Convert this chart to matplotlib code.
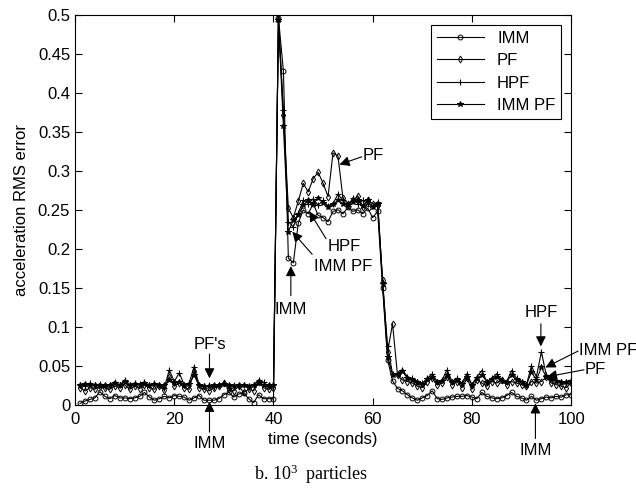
import numpy as np
import matplotlib
matplotlib.use('Agg')
import matplotlib.pyplot as plt

plt.rcParams['font.family'] = ['Liberation Sans', 'DejaVu Sans']
plt.rcParams['mathtext.fontset'] = 'custom'
plt.rcParams['mathtext.rm'] = 'Liberation Serif'

t = np.arange(1, 101)

imm = [0.002, 0.005, 0.007, 0.009, 0.017, 0.011, 0.008, 0.012, 0.009, 0.009,
       0.008, 0.009, 0.011, 0.016, 0.010, 0.006, 0.008, 0.011, 0.009, 0.012,
       0.011, 0.010, 0.006, 0.009, 0.012, 0.006, 0.006, 0.006, 0.008, 0.013,
       0.016, 0.010, 0.014, 0.015, 0.008, 0.003, 0.013, 0.008, 0.008, 0.008,
       0.496, 0.428, 0.188, 0.182, 0.233, 0.250, 0.245, 0.258, 0.243, 0.240,
       0.235, 0.248, 0.250, 0.245, 0.253, 0.248, 0.250, 0.245, 0.252, 0.240,
       0.248, 0.150, 0.058, 0.031, 0.021, 0.018, 0.013, 0.009, 0.006, 0.009,
       0.012, 0.018, 0.008, 0.007, 0.009, 0.010, 0.011, 0.011, 0.012, 0.010,
       0.008, 0.016, 0.011, 0.009, 0.008, 0.009, 0.012, 0.016, 0.011, 0.009,
       0.006, 0.011, 0.006, 0.008, 0.010, 0.009, 0.011, 0.010, 0.013, 0.013]

pf = [0.022, 0.018, 0.022, 0.020, 0.024, 0.022, 0.020, 0.024, 0.022, 0.026,
      0.020, 0.024, 0.021, 0.025, 0.022, 0.020, 0.024, 0.019, 0.036, 0.024,
      0.028, 0.022, 0.020, 0.044, 0.022, 0.020, 0.018, 0.022, 0.024, 0.028,
      0.020, 0.018, 0.024, 0.016, 0.020, 0.018, 0.030, 0.022, 0.020, 0.022,
      0.494, 0.372, 0.252, 0.240, 0.261, 0.284, 0.273, 0.290, 0.298, 0.284,
      0.267, 0.323, 0.319, 0.265, 0.258, 0.262, 0.268, 0.254, 0.262, 0.258,
      0.256, 0.160, 0.068, 0.104, 0.038, 0.032, 0.030, 0.028, 0.024, 0.022,
      0.030, 0.034, 0.026, 0.028, 0.036, 0.026, 0.030, 0.022, 0.034, 0.020,
      0.032, 0.028, 0.024, 0.030, 0.028, 0.032, 0.026, 0.030, 0.028, 0.026,
      0.024, 0.030, 0.028, 0.030, 0.036, 0.028, 0.026, 0.024, 0.022, 0.028]

hpf = [0.026, 0.024, 0.028, 0.025, 0.027, 0.024, 0.026, 0.030, 0.025, 0.032,
       0.026, 0.028, 0.027, 0.029, 0.025, 0.028, 0.026, 0.022, 0.045, 0.030,
       0.041, 0.026, 0.028, 0.049, 0.026, 0.024, 0.025, 0.023, 0.025, 0.028,
       0.022, 0.026, 0.024, 0.025, 0.023, 0.026, 0.032, 0.029, 0.024, 0.025,
       0.492, 0.378, 0.235, 0.228, 0.246, 0.262, 0.258, 0.264, 0.256, 0.262,
       0.255, 0.258, 0.270, 0.262, 0.255, 0.265, 0.258, 0.262, 0.258, 0.255,
       0.260, 0.157, 0.075, 0.040, 0.040, 0.045, 0.036, 0.034, 0.030, 0.028,
       0.034, 0.040, 0.030, 0.032, 0.045, 0.030, 0.034, 0.028, 0.040, 0.026,
       0.036, 0.044, 0.030, 0.034, 0.040, 0.032, 0.030, 0.044, 0.034, 0.030,
       0.026, 0.050, 0.036, 0.068, 0.038, 0.034, 0.032, 0.030, 0.028, 0.032]

imm_pf = [0.025, 0.027, 0.025, 0.026, 0.024, 0.026, 0.025, 0.028, 0.026, 0.029,
          0.025, 0.027, 0.026, 0.028, 0.025, 0.027, 0.026, 0.025, 0.032, 0.029,
          0.030, 0.026, 0.027, 0.038, 0.025, 0.024, 0.024, 0.025, 0.026, 0.027,
          0.025, 0.024, 0.025, 0.026, 0.024, 0.025, 0.028, 0.026, 0.025, 0.025,
          0.493, 0.357, 0.222, 0.237, 0.243, 0.256, 0.262, 0.258, 0.265, 0.259,
          0.254, 0.257, 0.262, 0.258, 0.256, 0.260, 0.262, 0.255, 0.262, 0.253,
          0.258, 0.155, 0.062, 0.038, 0.039, 0.043, 0.034, 0.032, 0.030, 0.026,
          0.033, 0.036, 0.030, 0.031, 0.038, 0.029, 0.032, 0.027, 0.036, 0.026,
          0.034, 0.038, 0.030, 0.033, 0.036, 0.031, 0.030, 0.038, 0.032, 0.030,
          0.026, 0.042, 0.032, 0.048, 0.036, 0.032, 0.031, 0.030, 0.029, 0.031]

fig = plt.figure(figsize=(6.36, 4.92), dpi=100)
ax = fig.add_axes([0.118, 0.177, 0.78, 0.793])

ax.plot(t, imm, '-o', color='k', lw=0.8, ms=3.5, mfc='none', mew=0.7, label='IMM')
ax.plot(t, pf, '-d', color='k', lw=0.8, ms=3.5, mfc='none', mew=0.7, label='PF')
ax.plot(t, hpf, '-+', color='k', lw=0.8, ms=5, mew=0.8, label='HPF')
ax.plot(t, imm_pf, '-*', color='k', lw=0.8, ms=4, mew=0.7, label='IMM PF')

ax.set_xlim(0, 100)
ax.set_ylim(0, 0.5)
ax.set_xticks([0, 20, 40, 60, 80, 100])
ax.set_yticks(np.arange(0, 0.51, 0.05))
ax.set_yticklabels(['0', '0.05', '0.1', '0.15', '0.2', '0.25', '0.3', '0.35', '0.4', '0.45', '0.5'])
ax.tick_params(direction='in', top=True, right=True, length=5, labelsize=12, width=0.8)
ax.tick_params(axis='x', pad=5)
for s in ax.spines.values():
    s.set_linewidth(0.8)

ax.set_xlabel('time (seconds)', fontsize=12, labelpad=4)
ax.set_ylabel('acceleration RMS error', fontsize=12, labelpad=6)

leg = ax.legend(loc='upper right', fontsize=12, fancybox=False, edgecolor='k',
                framealpha=1, handlelength=2.8, borderpad=0.35, labelspacing=0.45,
                borderaxespad=0.6)
leg.get_frame().set_linewidth(0.8)

arw = dict(arrowstyle='-|>', color='k', lw=0.8, mutation_scale=15, shrinkA=0, shrinkB=0)


def arrow(head, tail):
    ax.annotate('', xy=head, xytext=tail, arrowprops=arw, annotation_clip=False)


def label(x, y, s, ha='center'):
    ax.text(x, y, s, fontsize=12, ha=ha, va='center', clip_on=False)


# middle section
label(58, 0.32, 'PF', ha='left')
arrow((53.3, 0.308), (57.8, 0.318))
label(54.3, 0.203, 'HPF')
arrow((47.2, 0.248), (50.6, 0.213))
label(54.1, 0.177, 'IMM PF')
arrow((43.8, 0.222), (47.8, 0.193))
label(43.5, 0.122, 'IMM')
arrow((43.5, 0.178), (43.5, 0.14))

# left section
label(27.1, 0.078, "PF's")
arrow((27.1, 0.034), (27.1, 0.065))
label(27.1, -0.049, 'IMM')
arrow((27.1, 0.004), (27.1, -0.035))

# right section
label(93.9, 0.118, 'HPF')
arrow((93.9, 0.075), (93.9, 0.104))
label(101.5, 0.07, 'IMM PF', ha='left')
arrow((94.8, 0.048), (101.4, 0.069))
label(102.8, 0.046, 'PF', ha='left')
arrow((95.1, 0.036), (102.6, 0.045))
label(92.8, -0.058, 'IMM')
arrow((92.8, 0.002), (92.8, -0.043))

fig.text(0.489, 0.035, r'b. $\mathregular{10^3}$  particles', fontsize=13,
         family='Liberation Serif', ha='center', va='center')

fig.savefig('out.png', dpi=100)
